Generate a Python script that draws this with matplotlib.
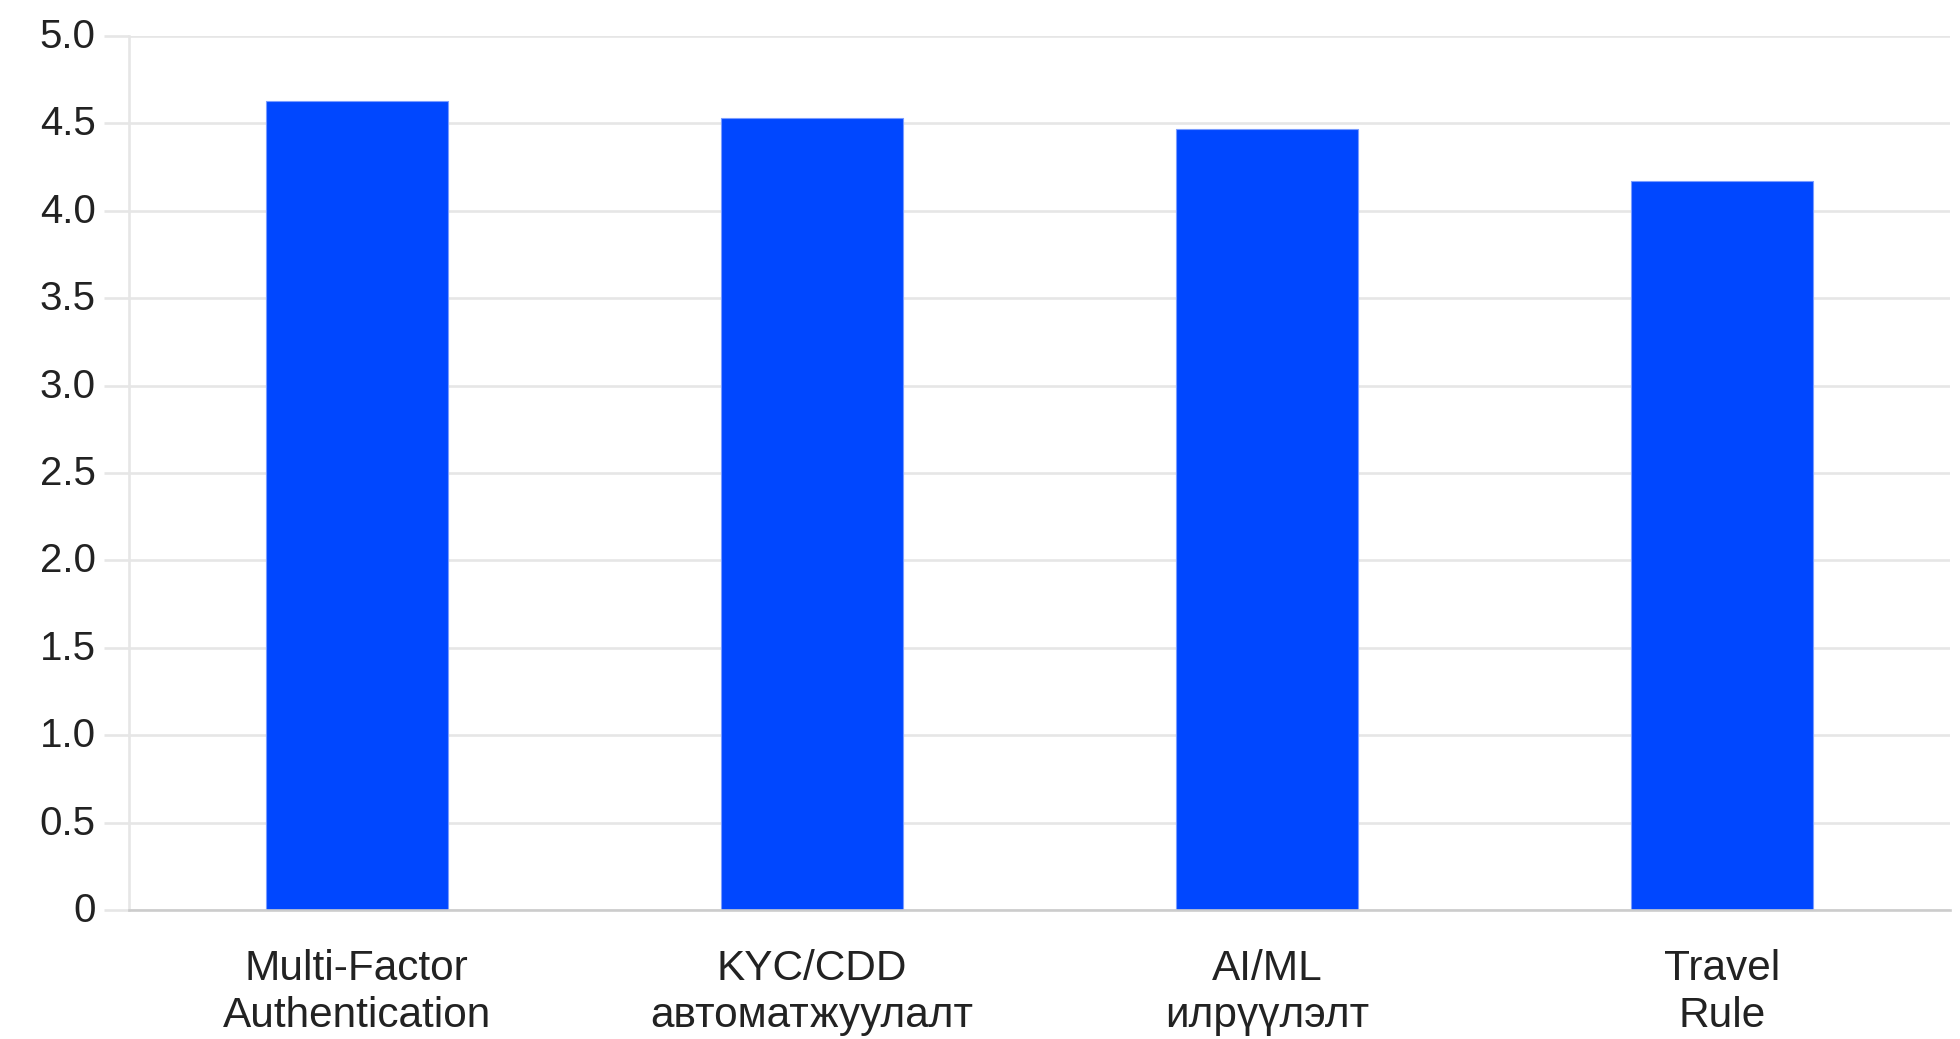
import matplotlib.pyplot as plt
import matplotlib.transforms as mtransforms
import numpy as np

plt.rcParams["font.family"] = ["Liberation Sans", "DejaVu Sans"]

categories = ["Multi-Factor\nAuthentication", "KYC/CDD\nавтоматжуулалт",
              "AI/ML\nилрүүлэлт", "Travel\nRule"]
scores = [4.63, 4.53, 4.47, 4.17]
yticks = [0, 0.5, 1.0, 1.5, 2.0, 2.5, 3.0, 3.5, 4.0, 4.5, 5.0]
ytick_labels = ["0", "0.5", "1.0", "1.5", "2.0", "2.5", "3.0", "3.5", "4.0", "4.5", "5.0"]

bar_color = "#0047ff"
grid_color = "#e6e6e6"

fig = plt.figure(figsize=(19.6, 10.39), dpi=100)
ax = fig.add_axes([0.0658, 0.1242, 0.9291, 0.8412])

x = np.arange(len(categories))
ax.bar(x, scores, width=0.4, color=bar_color, edgecolor="#7a9cff",
       linewidth=0.8, zorder=3)

ax.set_xlim(-0.5, len(categories) - 0.5)
ax.set_ylim(0, 5.0)
ax.set_yticks(yticks)
ax.set_yticklabels(ytick_labels)
ax.set_xticks(x)
ax.set_xticklabels(categories, fontsize=30.5, color="#222222", linespacing=1.22)

ax.yaxis.grid(True, color=grid_color, linewidth=1.9, zorder=0)
ax.set_axisbelow(True)

ax.tick_params(axis="y", length=18, width=1.9, color=grid_color,
               labelsize=29, labelcolor="#222222", pad=6)
ax.tick_params(axis="x", length=0, pad=28)

# y labels sit a few pixels above their gridlines
shift = mtransforms.ScaledTranslation(0, 3 / 100, fig.dpi_scale_trans)
for lbl in ax.get_yticklabels():
    lbl.set_transform(lbl.get_transform() + shift)

for side in ["top", "right"]:
    ax.spines[side].set_visible(False)
ax.spines["left"].set_color(grid_color)
ax.spines["left"].set_linewidth(1.9)
ax.spines["bottom"].set_color("#cccccc")
ax.spines["bottom"].set_linewidth(1.9)
ax.spines["bottom"].set_zorder(4)

fig.savefig("out.png", dpi=100)
